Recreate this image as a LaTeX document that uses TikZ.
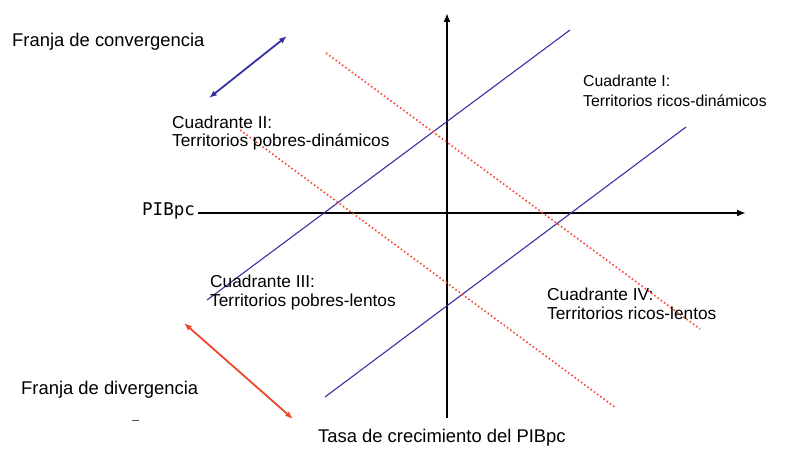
\documentclass[tikz,border=0pt]{standalone}
\usepackage{fontspec}
\setmainfont{Liberation Sans}
\newfontfamily\monofnt{DejaVu Sans Mono}
\usetikzlibrary{arrows.meta}
\definecolor{bandblue}{RGB}{52,52,160}
\definecolor{bandred}{RGB}{240,70,40}
\definecolor{dotred}{RGB}{250,70,50}
\tikzset{
  axisline/.style={line width=1.8pt,-{Latex[length=9pt,width=7pt]}},
  blueline/.style={bandblue,line width=1.1pt},
  redline/.style={dotred,line width=1.6pt,dash pattern=on 1.6pt off 2.4pt},
  bluearrow/.style={bandblue,line width=1.8pt,{Latex[length=8pt,width=6pt]}-{Latex[length=8pt,width=6pt]}},
  redarrow/.style={bandred,line width=1.8pt,{Latex[length=8pt,width=6pt]}-{Latex[length=8pt,width=6pt]}},
  bigtxt/.style={inner sep=0pt,anchor=west,font=\fontsize{18.4}{22}\selectfont},
  quadtxt/.style={inner sep=0pt,anchor=west,align=left,font=\fontsize{17.3}{18.8}\selectfont},
}
\begin{document}
\begin{tikzpicture}[x=1pt,y=-1pt]
\useasboundingbox (0,0) rectangle (786,449);
% axes
\coordinate (hx0) at (198,213);
\coordinate (hx1) at (746,213);
\coordinate (vy0) at (447,418);
\coordinate (vy1) at (447,13);
\draw[axisline] (hx0) -- (hx1);
\draw[axisline] (vy0) -- (vy1);
% blue lines
\coordinate (b1a) at (207,300);
\coordinate (b1b) at (570,30);
\coordinate (b2a) at (325,397);
\coordinate (b2b) at (686,127);
\draw[blueline] (b1a) -- (b1b);
\draw[blueline] (b2a) -- (b2b);
% red dotted lines
\coordinate (r1a) at (326,53);
\coordinate (r1b) at (700,329);
\coordinate (r2a) at (240,130);
\coordinate (r2b) at (616,408);
\draw[redline] (r1a) -- (r1b);
\draw[redline] (r2a) -- (r2b);
% band arrows
\coordinate (ba0) at (209,98);
\coordinate (ba1) at (287,36);
\draw[bluearrow] (ba0) -- (ba1);
\coordinate (ra0) at (184,323);
\coordinate (ra1) at (293,419);
\draw[redarrow] (ra0) -- (ra1);
% small dash
\coordinate (d0) at (132,420);
\coordinate (d1) at (139,420);
\draw[black!70,line width=0.8pt] (d0) -- (d1);
% texts
\node[bigtxt] (conv) at (12,42) {Franja de convergencia};
\node[bigtxt] (div) at (21,390) {Franja de divergencia};
\node[bigtxt] (tasa) at (318,438) {Tasa de crecimiento del PIBpc};
\node[inner sep=0pt,anchor=west,font=\monofnt\fontsize{17.5}{20}\selectfont] (pib) at (142,211) {PIBpc};
\node[quadtxt,font=\fontsize{15.8}{20}\selectfont] (q1) at (583,90.5) {Cuadrante I:\\Territorios ricos-dinámicos};
\node[quadtxt] (q2) at (172,133) {Cuadrante II:\\Territorios pobres-dinámicos};
\node[quadtxt] (q3) at (210,292.5) {Cuadrante III:\\Territorios pobres-lentos};
\node[quadtxt] (q4) at (547,304) {Cuadrante IV:\\Territorios ricos-lentos};
\end{tikzpicture}
\end{document}
